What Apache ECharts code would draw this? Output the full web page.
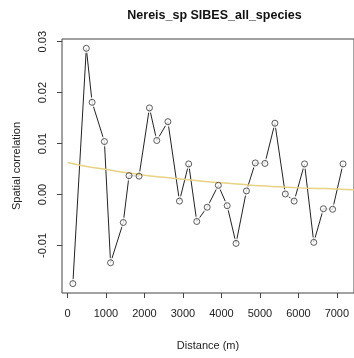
<!DOCTYPE html>
<html>
<head>
<meta charset="utf-8">
<script src="https://cdn.jsdelivr.net/npm/echarts@6/dist/echarts.min.js"></script>
<style>
html,body{margin:0;padding:0;background:#fff;}
#chart{width:354px;height:358px;}
</style>
</head>
<body>
<div id="chart"></div>
<script>
const titleText = "Nereis_sp SIBES_all_species";
const xTitle = "Distance (m)";
const yTitle = "Spatial correlation";

const distances = [140, 490, 640, 960, 1120, 1450, 1600, 1860, 2130, 2320, 2610, 2910, 3150, 3360, 3630, 3920, 4150, 4380, 4650, 4880, 5130, 5390, 5660, 5890, 6160, 6400, 6650, 6890, 7160];
const correlation = [-0.0175, 0.0287, 0.0181, 0.0104, -0.0134, -0.0055, 0.0037, 0.0036, 0.0170, 0.0106, 0.0143, -0.0013, 0.0060, -0.0053, -0.0025, 0.0018, -0.0022, -0.0096, 0.0007, 0.0062, 0.0061, 0.0140, 0.0001, -0.0013, 0.0060, -0.0094, -0.0028, -0.0029, 0.0060];

const trendDistances = [0, 500, 1000, 1500, 2000, 2500, 3000, 3500, 4000, 4500, 5000, 5500, 6000, 6500, 7000, 7500];
const trendValues = [0.0063, 0.0055, 0.0049, 0.0043, 0.0038, 0.0034, 0.0030, 0.0026, 0.0023, 0.0020, 0.0017, 0.0015, 0.0013, 0.0012, 0.0011, 0.0009];

const xTicks = [0, 1000, 2000, 3000, 4000, 5000, 6000, 7000];
const yTicks = [-0.01, 0.00, 0.01, 0.02, 0.03];

const pts = distances.map((d, i) => [d, correlation[i]]);
const trend = trendDistances.map((d, i) => [d, trendValues[i]]);

const chart = echarts.init(document.getElementById('chart'), null, {renderer: 'canvas'});
const font = 'Liberation Sans, Arial, Helvetica, sans-serif';
chart.setOption({
  animation: false,
  backgroundColor: '#ffffff',
  title: {
    text: titleText,
    left: 209.5,
    textAlign: 'center',
    top: 4,
    textStyle: {fontFamily: font, fontSize: 12.5, fontWeight: 'bold', color: '#111'}
  },
  grid: {
    left: 62, top: 39, width: 295, height: 254,
    show: true, borderColor: '#444', borderWidth: 1, backgroundColor: 'transparent'
  },
  xAxis: {
    type: 'value', min: -142, max: 7445, position: 'bottom',
    name: xTitle, nameLocation: 'middle', nameGap: 47,
    nameTextStyle: {fontFamily: font, fontSize: 11, color: '#222'},
    axisLine: {show: false, onZero: false},
    splitLine: {show: false},
    axisTick: {show: true, inside: false, length: 5, customValues: xTicks, lineStyle: {color: '#444', width: 1}},
    axisLabel: {customValues: xTicks, margin: 15, fontFamily: font, fontSize: 11, color: '#222',
      formatter: v => String(Math.round(v))}
  },
  yAxis: {
    type: 'value', min: -0.01934, max: 0.03053, position: 'left',
    name: yTitle, nameLocation: 'middle', nameGap: 40, nameRotate: 90,
    nameTextStyle: {fontFamily: font, fontSize: 11, color: '#222'},
    axisLine: {show: false, onZero: false},
    splitLine: {show: false},
    axisTick: {show: true, inside: false, length: 5, customValues: yTicks, lineStyle: {color: '#444', width: 1}},
    axisLabel: {customValues: yTicks, rotate: 90, margin: 14, fontFamily: font, fontSize: 11, color: '#222',
      formatter: v => v.toFixed(2)}
  },
  series: [
    {
      type: 'line', data: pts, symbol: 'none', z: 2,
      lineStyle: {color: '#222', width: 1}
    },
    {
      type: 'scatter', data: pts, symbol: 'circle', symbolSize: 10, z: 3, silent: true,
      itemStyle: {color: '#ffffff', borderWidth: 0}
    },
    {
      type: 'line', data: trend, symbol: 'none', smooth: true, z: 4,
      lineStyle: {color: '#E8D284', width: 1.5}
    },
    {
      type: 'scatter', data: pts, symbol: 'circle', symbolSize: 6, z: 5,
      itemStyle: {color: 'rgba(255,255,255,0)', borderColor: '#333', borderWidth: 1}
    }
  ]
});
</script>
</body>
</html>
